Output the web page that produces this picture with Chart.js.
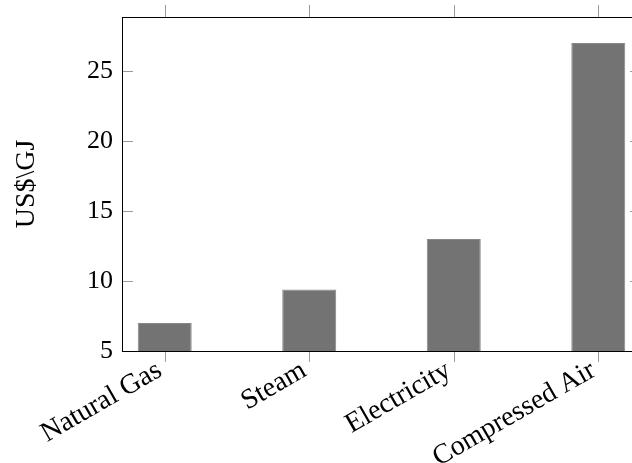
<!DOCTYPE html>
<html>
<head>
<meta charset="utf-8">
<script src="https://cdn.jsdelivr.net/npm/chart.js@4/dist/chart.umd.min.js"></script>
<style>
  html, body { margin: 0; padding: 0; overflow: hidden; background: #ffffff; width: 632px; height: 463px; }
  canvas { display: block; }
</style>
</head>
<body>
<canvas id="c" width="660" height="463"></canvas>
<script>
const categories = ["Natural Gas", "Steam", "Electricity", "Compressed Air"];
const costValues = [7.0, 9.4, 13.0, 27.0];
const yTickValues = [5, 10, 15, 20, 25];
const yAxisTitle = "US$\\GJ";

const FONT = "'Liberation Serif', 'Times New Roman', serif";

const framePlugin = {
  id: 'frame',
  afterDatasetsDraw(chart) {
    const {ctx, chartArea: a, scales} = chart;
    const L = a.left, R = a.right, T = a.top, B = a.bottom;
    ctx.save();
    ctx.strokeStyle = '#9a9a9a';
    ctx.lineWidth = 1;
    ctx.beginPath();
    yTickValues.forEach(v => {
      const y = Math.round(scales.y.getPixelForValue(v)) + 0.5;
      ctx.moveTo(L, y); ctx.lineTo(L + 11, y);
      ctx.moveTo(R, y); ctx.lineTo(R - 11, y);
    });
    categories.forEach((c, i) => {
      const x = Math.round(scales.x.getPixelForValue(i)) + 0.5;
      ctx.moveTo(x, B); ctx.lineTo(x, B + 11);
      ctx.moveTo(x, T); ctx.lineTo(x, T - 12);
    });
    ctx.stroke();
    ctx.strokeStyle = '#000000';
    ctx.lineWidth = 1;
    ctx.strokeRect(Math.round(L) + 0.5, Math.round(T) + 0.5, Math.round(R - L), Math.round(B - T));
    ctx.restore();
  }
};

new Chart(document.getElementById('c'), {
  type: 'bar',
  data: {
    datasets: [{
      data: costValues.map((v, i) => ({x: i, y: v})),
      backgroundColor: '#737373',
      borderColor: '#878787',
      borderWidth: 1,
      categoryPercentage: 1.0,
      barPercentage: 0.3736
    }]
  },
  options: {
    responsive: false,
    animation: false,
    layout: { padding: { top: 17, right: 19, left: 0, bottom: 0 } },
    plugins: { legend: { display: false }, tooltip: { enabled: false } },
    scales: {
      x: {
        type: 'linear',
        offset: false,
        min: -0.2955,
        max: 3.2955,
        grid: { display: false },
        border: { display: false },
        afterBuildTicks: s => { s.ticks = categories.map((c, i) => ({value: i})); },
        afterFit: s => { s.height = 112; s.paddingLeft = 0; s.paddingRight = 0; },
        ticks: {
          autoSkip: false,
          minRotation: 30,
          maxRotation: 30,
          padding: -5,
          labelOffset: -5,
          color: '#000000',
          font: { family: FONT, size: 28 },
          callback: v => categories[v]
        }
      },
      y: {
        min: 5,
        max: 28.857,
        grid: { display: false },
        border: { display: false },
        afterBuildTicks: s => { s.ticks = yTickValues.map(v => ({value: v})); },
        afterFit: s => { s.width = 122; s.paddingTop = 0; s.paddingBottom = 0; },
        ticks: {
          padding: 1,
          color: '#000000',
          font: { family: FONT, size: 26 }
        },
        title: {
          display: true,
          text: yAxisTitle,
          color: '#000000',
          padding: { top: 10, bottom: 0 },
          font: { family: FONT, size: 28 }
        }
      }
    }
  },
  plugins: [framePlugin]
});
</script>
</body>
</html>
